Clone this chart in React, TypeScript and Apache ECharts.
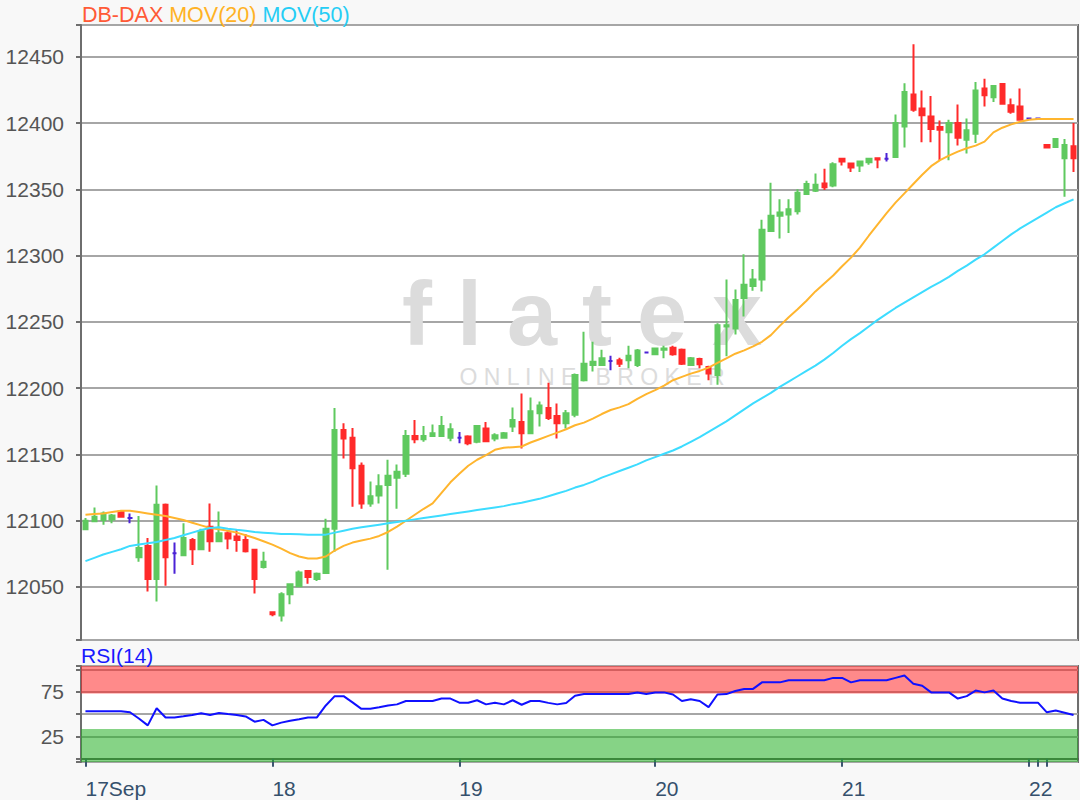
import React, { useEffect, useRef } from 'react';
import * as echarts from 'echarts';

const FONT = '"Liberation Sans", Arial, sans-serif';

// Hourly candles: open, close, low, high
const opens = [
  12093.5, 12099.5, 12100.5, 12101, 12107, 12102, 12072.5, 12081, 12056, 12112,
  12075.5, 12074, 12085.5, 12078.5, 12095.5, 12084.5, 12090.5, 12088, 12085.5, 12078,
  12065, 12031, 12028.5, 12044.5, 12050.5, 12062, 12056, 12060.5, 12094, 12168.5,
  12162.5, 12141.5, 12113, 12119, 12127, 12132.5, 12135.5, 12164, 12161.5, 12164,
  12164, 12162.5, 12162.5, 12163.5, 12159.5, 12169.5, 12162, 12162.5, 12171, 12174.5,
  12166, 12181, 12185, 12179, 12173.5, 12180, 12206, 12217.5, 12217.5, 12220.5,
  12221, 12221, 12217.5, 12227, 12225.5, 12229, 12230.5, 12229, 12217.5, 12222,
  12216, 12210, 12246.5, 12245, 12268, 12277, 12282, 12318.5, 12330, 12331,
  12333.5, 12346.5, 12349, 12354.5, 12353, 12373, 12369.5, 12368, 12370.5, 12373.5,
  12373, 12374.5, 12397.5, 12421.5, 12411, 12405, 12397, 12393, 12400, 12387.5,
  12392, 12426, 12419.5, 12429.5, 12413.5, 12412.5, 12403.5, 12403.5, 12383.5, 12382,
  12373.5, 12382.5,
];
const closes = [
  12100, 12103, 12105.5, 12104, 12103, 12102, 12079.5, 12056, 12112, 12072.5,
  12075.5, 12087, 12078.5, 12092, 12084.5, 12090.5, 12086.5, 12085.5, 12077, 12056,
  12069, 12029.5, 12044.5, 12052, 12061, 12057.5, 12060, 12094, 12168.5, 12162,
  12139.5, 12113, 12118.5, 12126, 12134, 12137, 12164, 12161.5, 12164, 12166,
  12171.5, 12169, 12162.5, 12158.5, 12171.5, 12160, 12164.5, 12166, 12176, 12166,
  12182.5, 12187, 12177.5, 12173.5, 12181, 12210, 12218.5, 12220, 12222.5, 12220.5,
  12218.5, 12224.5, 12228.5, 12227, 12230, 12230, 12225.5, 12218.5, 12222.5, 12218,
  12211, 12247.5, 12247.5, 12266.5, 12278, 12282, 12319.5, 12330, 12332.5, 12335,
  12347.5, 12354, 12353.5, 12351.5, 12369, 12371, 12366.5, 12371, 12373, 12372.5,
  12373, 12400, 12423.5, 12410, 12406, 12395.5, 12395, 12400, 12389, 12394.5,
  12424.5, 12421, 12428, 12414.5, 12408.5, 12402.5, 12403.5, 12403.5, 12381.5, 12388,
  12383.5, 12373.5,
];
const lows = [
  12093, 12099, 12097, 12098, 12103, 12098, 12069, 12046.5, 12039, 12051,
  12060, 12074, 12066.5, 12078, 12076.5, 12084, 12078.5, 12076.5, 12076, 12045,
  12064, 12028, 12024, 12037, 12050, 12052.5, 12054.5, 12060, 12076.5, 12147,
  12110.5, 12109, 12110.5, 12113, 12063, 12109, 12133, 12158.5, 12159.5, 12163.5,
  12163.5, 12160, 12158.5, 12157, 12158.5, 12160, 12160, 12162.5, 12167, 12154.5,
  12166, 12171, 12176, 12162, 12169.5, 12178, 12205, 12212.5, 12217.5, 12213.5,
  12216, 12215, 12216, 12226.5, 12225, 12222.5, 12224.5, 12217.5, 12217.5, 12215,
  12206, 12202.5, 12224, 12240.5, 12254, 12273.5, 12273, 12318.5, 12313, 12317,
  12331, 12346, 12348, 12349.5, 12351.5, 12368, 12363, 12363, 12368.5, 12366,
  12371, 12374.5, 12381.5, 12408.5, 12385.5, 12385.5, 12372, 12372, 12383, 12377,
  12385, 12412.5, 12416, 12414, 12407, 12402.5, 12403.5, 12403.5, 12381.5, 12381.5,
  12344.5, 12363,
];
const highs = [
  12102, 12110, 12107, 12105, 12107.5, 12105.5, 12103.5, 12087, 12126.5, 12113,
  12083.5, 12098, 12087, 12094, 12113, 12107, 12092, 12093, 12090, 12078.5,
  12076.5, 12031.5, 12046, 12052.5, 12062.5, 12062.5, 12061, 12101.5, 12185, 12173.5,
  12170, 12144, 12129.5, 12135, 12146, 12142.5, 12168.5, 12176, 12171.5, 12172.5,
  12179, 12173.5, 12167, 12164.5, 12171.5, 12174.5, 12166, 12167, 12185.5, 12196,
  12193, 12190, 12204, 12188.5, 12183.5, 12211, 12242.5, 12235, 12229, 12224.5,
  12223, 12232, 12229.5, 12227.5, 12230.5, 12232, 12232, 12230, 12223.5, 12223,
  12217, 12249, 12282, 12274.5, 12301, 12290, 12327, 12355, 12342.5, 12342.5,
  12350, 12356.5, 12362, 12365.5, 12370.5, 12373, 12369.5, 12371.5, 12373.5, 12373.5,
  12377.5, 12406.5, 12430, 12459.5, 12424.5, 12420.5, 12402, 12402.5, 12414, 12403.5,
  12431, 12433.5, 12428, 12429.5, 12418.5, 12426, 12403.5, 12403.5, 12383.5, 12388,
  12388, 12400,
];

const ma20 = [
  12104.5, 12105, 12105.5, 12106.5, 12107.5, 12107.5, 12106.5, 12105.5, 12104.5, 12103.5,
  12102, 12100.5, 12098.5, 12096.5, 12094.5, 12093.5, 12092.5, 12091, 12089, 12087,
  12084.5, 12082, 12079, 12075.5, 12073, 12071.5, 12071.5, 12073, 12077.5, 12081,
  12083.5, 12085, 12086.5, 12088.5, 12091.5, 12095.5, 12100, 12104.5, 12109, 12113,
  12121, 12129, 12135.5, 12141.5, 12146, 12149.5, 12153.5, 12155, 12155.5, 12156,
  12159, 12161.5, 12164, 12166.5, 12169, 12172, 12174, 12177, 12180.5, 12183.5,
  12185.5, 12188, 12192, 12195.5, 12198.5, 12202, 12206, 12208.5, 12211, 12213,
  12215.5, 12219, 12222.5, 12226, 12228.5, 12231.5, 12235, 12240, 12247, 12253.5,
  12259.5, 12266, 12273, 12279, 12285, 12292, 12298.5, 12306, 12315, 12323.5,
  12332, 12340, 12347, 12354, 12361, 12367.5, 12372, 12375.5, 12378.5, 12381,
  12383, 12386, 12393, 12396.5, 12399, 12401, 12402.5, 12403, 12403, 12403,
  12403, 12403,
];
const ma50 = [
  12069.5, 12072, 12074.5, 12076.5, 12078.5, 12081, 12082, 12083, 12084, 12085.5,
  12087, 12089, 12091, 12093, 12094.5, 12095, 12094, 12093.2, 12092.5, 12091.5,
  12091, 12090.5, 12090, 12090, 12089.8, 12089.5, 12089.5, 12089.5, 12091, 12092.5,
  12094, 12095, 12096, 12097, 12098, 12099, 12100, 12101, 12102, 12103,
  12104, 12105, 12106, 12107, 12108, 12109, 12110, 12111, 12112.5, 12113.5,
  12115, 12116.5, 12118.5, 12120.5, 12122.5, 12125, 12127, 12129.5, 12132.5, 12135,
  12137.5, 12140, 12142.5, 12145.5, 12148, 12150.5, 12153, 12156, 12159.5, 12163,
  12167, 12171, 12175, 12179.5, 12184, 12188.5, 12192.5, 12196.5, 12201, 12205,
  12209, 12213, 12217, 12221.5, 12226.5, 12232, 12237, 12241.5, 12246.5, 12251.5,
  12256, 12260.5, 12264.5, 12268.5, 12272.5, 12276.5, 12280, 12284, 12288.5, 12292.5,
  12297, 12301, 12306, 12311, 12316, 12320.5, 12324.5, 12328.5, 12332.5, 12336.5,
  12339.5, 12342.5,
];
const rsi = [
  53.1, 53.1, 53.1, 53.1, 53.1, 52, 45, 37.3, 56.5, 46.2,
  46.2, 47.5, 48.9, 50.8, 48.9, 51.2, 50, 48.9, 47.3, 41.5,
  43.5, 37.3, 40.4, 42.5, 44.2, 46.2, 46.2, 59.6, 70, 70,
  63, 55.8, 55.8, 57.5, 59.6, 60.8, 64.6, 64.6, 64.6, 64.6,
  67.3, 67.3, 62.7, 62.7, 65.4, 60.8, 62.7, 60.8, 65.4, 60.4,
  64.6, 64.6, 62.5, 60.8, 62.3, 70.4, 72.3, 72.3, 72.3, 72.3,
  72.3, 72.3, 74.2, 72.3, 74.2, 74.2, 71.9, 64.6, 66.5, 64.6,
  57.7, 71.9, 72.3, 75.8, 78.1, 78.1, 85.4, 85.4, 85.4, 87.7,
  87.7, 87.7, 87.7, 87.7, 90.4, 90.4, 85.4, 87.7, 87.7, 87.7,
  87.7, 90.4, 93.1, 83.9, 81.6, 74.2, 74.2, 74.2, 67.3, 70,
  76.2, 74.2, 76.2, 67.3, 64.5, 62.7, 62.7, 62.7, 51.9, 53.9,
  51.5, 48.9,
];

// first candle of each calendar day
const dayStartIndex = [0, 21, 42, 64, 85, 106, 107, 108];
const dayLabels = ['17Sep', '18', '19', '20', '21', '22', '23', '24'];
const hiddenDayLabels = ['23', '24'];

const rsiOverbought = 73;
const rsiOversold = 33.4;

const categories = opens.map((_, i) => {
  let d = 0;
  dayStartIndex.forEach((s, k) => {
    if (i >= s) d = k;
  });
  return `${dayLabels[d]}-${i - dayStartIndex[d]}`;
});

const labelByIndex = new Map<number, string>();
dayStartIndex.forEach((idx, k) => {
  if (!hiddenDayLabels.includes(dayLabels[k])) labelByIndex.set(idx, dayLabels[k]);
});

export default function App() {
  const ref = useRef<HTMLDivElement>(null);

  useEffect(() => {
    if (!ref.current) return;
    const chart = echarts.init(ref.current, null, { renderer: 'svg' });
    const candleData = opens.map((o, i) => [o, closes[i], lows[i], highs[i]]);
    const RSI_MIN = -3.6;
    const RSI_MAX = 103.7;

    const option: any = {
      animation: false,
      backgroundColor: '#f8f8f8',
      textStyle: { fontFamily: FONT },
      title: [
        {
          text: '{a|DB-DAX} {b|MOV(20)} {c|MOV(50)}',
          left: 82,
          top: 4,
          padding: 0,
          textStyle: {
            fontSize: 21.5,
            fontWeight: 'normal',
            fontFamily: FONT,
            rich: {
              a: { color: '#ff5a36', fontSize: 21.5, fontFamily: FONT },
              b: { color: '#ffb224', fontSize: 21.5, fontFamily: FONT },
              c: { color: '#25cdf5', fontSize: 21.5, fontFamily: FONT },
            },
          },
        },
        {
          text: 'RSI(14)',
          left: 81,
          top: 645,
          padding: 0,
          textStyle: { color: '#1818ff', fontSize: 21, fontWeight: 'normal', fontFamily: FONT },
        },
      ],
      graphic: [
        {
          type: 'text',
          z: 1,
          x: 582,
          y: 314,
          silent: true,
          style: {
            text: 'f l a t e x',
            fill: '#dcdcdc',
            font: `bold 90px ${FONT}`,
            align: 'center',
            verticalAlign: 'middle',
            textAlign: 'center',
            textVerticalAlign: 'middle',
          },
        },
        {
          type: 'text',
          z: 1,
          x: 592,
          y: 377,
          silent: true,
          style: {
            text: 'O N L I N E   B R O K E R',
            fill: '#dcdcdc',
            font: `23px ${FONT}`,
            align: 'center',
            verticalAlign: 'middle',
            textAlign: 'center',
            textVerticalAlign: 'middle',
          },
        },
      ],
      grid: [
        {
          left: 81,
          right: 2,
          top: 25,
          height: 615,
          show: true,
          backgroundColor: '#ffffff',
          borderColor: '#6e6e6e',
          borderWidth: 2,
          containLabel: false,
          outerBoundsMode: 'none',
        },
        {
          left: 81,
          right: 2,
          top: 666,
          height: 96,
          show: true,
          backgroundColor: '#ffffff',
          borderColor: '#6e6e6e',
          borderWidth: 2,
          containLabel: false,
          outerBoundsMode: 'none',
        },
      ],
      xAxis: [
        {
          type: 'category',
          gridIndex: 0,
          data: categories,
          boundaryGap: true,
          show: false,
        },
        {
          type: 'category',
          gridIndex: 1,
          data: categories,
          boundaryGap: true,
          axisLine: { show: true, lineStyle: { color: '#5a5a5a', width: 2 } },
          axisTick: {
            show: true,
            alignWithLabel: true,
            interval: (i: number) => dayStartIndex.includes(i),
            length: 8,
            lineStyle: { color: '#3d5570', width: 2 },
          },
          axisLabel: {
            interval: (i: number) => labelByIndex.has(i),
            formatter: (_v: string, i: number) => labelByIndex.get(i) ?? '',
            align: 'left',
            margin: 16,
            color: '#35506c',
            fontSize: 21,
            fontFamily: FONT,
            hideOverlap: false,
          },
          splitLine: { show: false },
        },
      ],
      yAxis: [
        {
          type: 'value',
          gridIndex: 0,
          min: 12010,
          max: 12474,
          minInterval: 50,
          maxInterval: 50,
          axisLine: { show: true, lineStyle: { color: '#6e6e6e', width: 2 } },
          axisTick: { show: true, length: 5, lineStyle: { color: '#6e6e6e', width: 2 } },
          axisLabel: {
            color: '#555555',
            fontSize: 21,
            fontFamily: FONT,
            margin: 17,
            formatter: (v: number) => (v % 50 === 0 ? String(v) : ''),
          },
          splitLine: { show: true, lineStyle: { color: '#a6a6a6', width: 2 } },
        },
        {
          type: 'value',
          gridIndex: 1,
          min: RSI_MIN,
          max: RSI_MAX,
          minInterval: 25,
          maxInterval: 25,
          axisLine: { show: true, lineStyle: { color: '#6e6e6e', width: 2 } },
          axisTick: { show: true, length: 5, lineStyle: { color: '#6e6e6e', width: 2 } },
          axisLabel: {
            color: '#555555',
            fontSize: 21,
            fontFamily: FONT,
            margin: 17,
            formatter: (v: number) => (v === 25 || v === 75 ? String(v) : ''),
          },
          splitLine: { show: true, lineStyle: { color: '#a6a6a6', width: 2 } },
        },
      ],
      series: [
        {
          type: 'candlestick',
          xAxisIndex: 0,
          yAxisIndex: 0,
          data: candleData,
          barWidth: 5,
          z: 3,
          itemStyle: {
            color: '#5fc95f',
            color0: '#ff2a2a',
            borderColor: '#5fc95f',
            borderColor0: '#ff2a2a',
            borderColorDoji: '#4b22d6',
            borderWidth: 2,
          },
        },
        {
          type: 'line',
          name: 'MOV(20)',
          xAxisIndex: 0,
          yAxisIndex: 0,
          data: ma20,
          symbol: 'none',
          showSymbol: false,
          z: 4,
          lineStyle: { color: '#ffb52e', width: 2 },
        },
        {
          type: 'line',
          name: 'MOV(50)',
          xAxisIndex: 0,
          yAxisIndex: 0,
          data: ma50,
          symbol: 'none',
          showSymbol: false,
          z: 4,
          lineStyle: { color: '#3ddcff', width: 2 },
        },
        {
          type: 'line',
          name: 'RSI(14)',
          xAxisIndex: 1,
          yAxisIndex: 1,
          data: rsi,
          symbol: 'none',
          showSymbol: false,
          z: 4,
          lineStyle: { color: '#1010ff', width: 2 },
          markArea: {
            silent: true,
            data: [
              [
                { yAxis: rsiOverbought, itemStyle: { color: 'rgba(255,30,30,0.52)' } },
                { yAxis: RSI_MAX },
              ],
              [
                { yAxis: RSI_MIN, itemStyle: { color: 'rgba(35,175,35,0.55)' } },
                { yAxis: rsiOversold },
              ],
            ],
          },
        },
      ],
    };

    chart.setOption(option);
    return () => chart.dispose();
  }, []);

  return (
    <div
      ref={ref}
      style={{ position: 'fixed', left: 0, top: 0, width: 1080, height: 800 }}
    />
  );
}
